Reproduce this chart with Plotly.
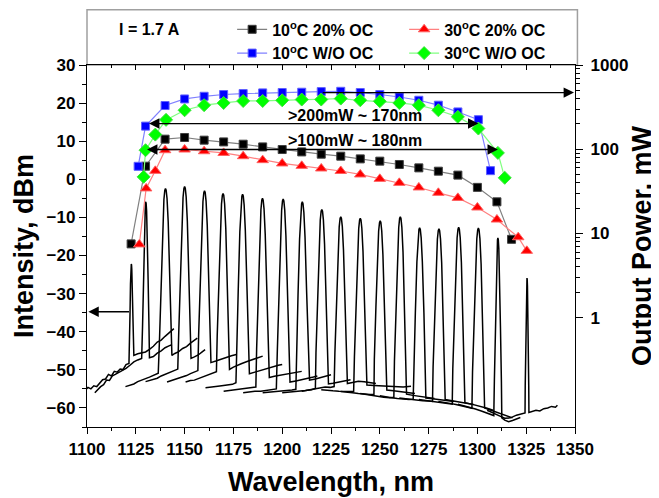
import plotly.graph_objects as go

# ---------------- Output power (mW) vs wavelength (nm), right log axis ----------------
WL_10C_OC = [1122.6, 1130, 1140, 1150, 1160, 1170, 1180, 1190, 1200, 1210, 1220, 1230,
             1240, 1250, 1260, 1270, 1280, 1290, 1300, 1310, 1317.5]
P_10C_OC = [7.5, 62.8, 131.5, 137.7, 128, 122, 114.6, 106.4, 99.1, 92.8, 87.2, 82.6,
            76.7, 72.1, 65.8, 60, 54.8, 49.2, 35.2, 23.7, 8.5]

WL_30C_OC = [1126.8, 1130.3, 1135, 1140, 1150, 1160, 1170, 1180, 1190, 1200, 1210, 1220,
             1230, 1240, 1250, 1260, 1270, 1280, 1290, 1300, 1310, 1320.9, 1325.3]
P_30C_OC = [7.4, 34.2, 55.3, 97.3, 99.1, 94.6, 90.3, 82.6, 74.1, 67.7, 63.4, 59,
            55.1, 50.1, 44.4, 39.8, 35.1, 30.3, 26.4, 20.3, 14.6, 9.0, 6.2]

WL_10C_WO = [1126.2, 1130, 1140, 1150, 1160, 1170, 1180, 1190, 1200, 1210, 1220, 1230,
             1240, 1250, 1260, 1270, 1280, 1290, 1300.5, 1306.7]
P_10C_WO = [62.6, 188, 330, 395, 425, 446, 458, 466, 471, 475, 483, 487,
            471, 446, 417, 381, 333, 277, 224, 55.6]

WL_30C_WO = [1129, 1130, 1135, 1140.5, 1150, 1160, 1170, 1180, 1190, 1200, 1210, 1220,
             1230, 1240, 1250, 1260, 1270, 1280, 1290, 1300.5, 1310.5, 1314]
P_30C_WO = [46.9, 97.3, 149, 223, 290, 333, 354, 374, 374, 381, 389, 389,
            399, 381, 371, 354, 333, 290, 242, 176, 90.4, 45.7]

SERIES_NAMES = ["10<sup>o</sup>C 20% OC", "30<sup>o</sup>C 20% OC",
                "10<sup>o</sup>C W/O OC", "30<sup>o</sup>C W/O OC"]

# ---------------- Lasing spectra (dBm), left axis ----------------
PEAK_NM = [1122.7, 1130.1, 1140.2, 1150.0, 1160.2, 1169.7, 1179.7, 1189.9, 1200.5, 1210.3,
           1220.3, 1230.0, 1240.0, 1250.2, 1260.5, 1270.4, 1280.3, 1290.4, 1300.5, 1310.5, 1325.4]
PEAK_DBM = [-22.2, -5.9, -2.4, -1.9, -3.0, -3.7, -3.9, -5.0, -5.2, -5.9,
            -7.9, -9.8, -10.2, -10.9, -9.8, -12.7, -13.0, -12.6, -12.8, -15.4, -25.9]
PEAK_WIDTH = [0.3, 0.55, 1, 1, 1, 1, 1, 1, 1, 1,
              1, 1, 1, 1, 1, 1, 1, 1, 1, 0.6, 0.3]

# line shape of one lasing line: offset from centre (nm) and fraction of height above floor
PROFILE_OFFSET = [-3.0, -2.2, -1.4, -0.8, -0.35, 0, 0.35, 0.8, 1.4, 2.2, 3.0]
PROFILE_FRAC = [0.2, 0.5, 0.8, 0.94, 0.99, 1, 0.99, 0.94, 0.8, 0.5, 0.2]

# noise floor of each spectrum on the short- and long-wavelength side of its line
BASE_LEFT = [
    [[1099, -55.4], [1100.5, -54.6], [1102, -55.0], [1103.5, -54.2], [1105, -54.4], [1106.5, -53.4],
     [1108, -52.6], [1109.5, -52.4], [1111, -51.2], [1112.5, -51.6], [1114, -50.4], [1115.5, -50.6],
     [1117, -49.8], [1118.5, -49.9], [1120, -48.6], [1121.5, -48.3]],
    [[1104, -56.0], [1105.5, -55.2], [1107, -54.4], [1108.5, -53.9], [1110, -52.7], [1111.5, -52.8],
     [1113, -51.6], [1114.5, -51.2], [1116, -50.8], [1118, -50.1], [1120, -49.6], [1122, -48.8],
     [1124, -47.9], [1126, -47.4], [1128, -47.0]],
    [[1119.7, -54.4], [1122, -54.0], [1124, -53.7], [1126, -53.1], [1128, -52.8], [1130, -52.3],
     [1132, -51.9], [1134, -51.4], [1136.5, -50.9]],
    [[1130, -53.1], [1132, -52.8], [1134, -52.5], [1136, -52.2], [1138, -51.6], [1140, -51.2],
     [1142, -50.6], [1144, -50.3], [1146.5, -49.8]],
    [[1141, -53.2], [1143, -52.9], [1145, -52.6], [1147, -52.3], [1149, -51.9], [1151, -51.5],
     [1153, -51.0], [1155, -50.6], [1156.8, -50.2]],
    [[1150.5, -53.2], [1153, -52.8], [1155, -52.7], [1157, -52.3], [1159, -51.9], [1161, -51.6],
     [1163, -51.1], [1166.3, -50.5]],
    [[1160.7, -54.7], [1163, -54.5], [1166, -54.4], [1169, -54.2], [1172, -54.0], [1174.5, -53.8],
     [1176.3, -53.4]],
    [[1170, -55.6], [1173, -55.4], [1176, -55.3], [1179, -55.1], [1182, -54.9], [1185, -54.7],
     [1186.5, -54.5]],
    [[1180, -56.0], [1183, -55.8], [1186, -55.6], [1189, -55.6], [1192, -55.4], [1195, -55.2],
     [1197, -55.0]],
    [[1190, -56.0], [1193, -55.9], [1196, -55.8], [1199, -55.7], [1202, -55.5], [1205, -55.3],
     [1207, -55.1]],
    [[1200, -56.0], [1203, -55.9], [1206, -55.8], [1209, -55.6], [1212, -55.4], [1215, -55.2],
     [1217, -54.9]],
    [[1210, -55.6], [1213, -55.3], [1216, -54.9], [1219, -54.6], [1222, -54.5], [1224.5, -54.6],
     [1226.6, -54.4]],
    [[1220, -55.2], [1223, -55.4], [1226, -55.5], [1229, -55.6], [1232, -55.7], [1234.5, -55.8],
     [1236.6, -55.7]],
    [[1230, -55.7], [1233, -55.8], [1236, -56.0], [1239, -56.2], [1242, -56.4], [1245, -56.5],
     [1247, -56.4]],
    [[1240, -56.2], [1243, -56.5], [1246, -56.7], [1249, -57.0], [1252, -57.2], [1255, -57.3],
     [1257.2, -57.2]],
    [[1250, -56.8], [1253, -57.1], [1256, -57.3], [1259, -57.5], [1262, -57.7], [1265, -57.8],
     [1267.1, -57.7]],
    [[1260, -57.4], [1263, -57.6], [1266, -57.8], [1269, -58.0], [1272, -58.1], [1275, -58.2],
     [1277.0, -58.3]],
    [[1270, -57.8], [1273, -58.0], [1276, -58.2], [1279, -58.4], [1282, -58.7], [1285, -58.9],
     [1287.1, -59.0]],
    [[1280, -58.3], [1283, -58.5], [1286, -58.8], [1289, -59.1], [1292, -59.4], [1295, -59.8],
     [1297.2, -60.1]],
    [[1290, -59.0], [1293, -59.4], [1296, -59.8], [1299, -60.3], [1302, -60.8], [1305, -61.3],
     [1308.4, -62.0]],
    [[1305, -60.6], [1308, -61.2], [1311, -62.0], [1314, -62.7], [1317, -62.6], [1320, -61.9],
     [1323, -61.5], [1324.4, -61.3]],
]
BASE_RIGHT = [
    [[1124, -46.2], [1126, -45.8], [1128, -45.6], [1130, -45.3], [1132, -44.6], [1134, -43.8],
     [1136, -42.7], [1138, -42.2], [1140, -41.2], [1142, -40.3], [1144.5, -39.2]],
    [[1132, -46.8], [1134, -46.5], [1136, -45.6], [1138, -45.0], [1140, -44.2], [1142, -43.7],
     [1143.5, -43.4]],
    [[1143.5, -46.2], [1145, -45.7], [1147, -45.2], [1149, -44.4], [1151, -43.9], [1153, -43.0],
     [1155, -42.3], [1156.5, -41.7]],
    [[1153.3, -47.0], [1155, -46.6], [1157, -46.1], [1159, -45.3], [1160.5, -44.7]],
    [[1163.5, -48.1], [1166, -47.7], [1168, -47.3], [1170, -47.0], [1172, -46.6], [1174, -46.3],
     [1176.5, -46.0]],
    [[1173, -49.9], [1175, -49.3], [1177, -48.8], [1179, -48.4], [1182, -47.8], [1185, -47.2],
     [1188, -46.8], [1190, -46.4]],
    [[1183.2, -51.0], [1186, -50.6], [1189, -50.1], [1192, -49.6], [1195, -49.2], [1198, -48.8],
     [1200, -48.6]],
    [[1193.4, -52.0], [1196, -51.7], [1199, -51.4], [1202, -51.1], [1205, -50.8], [1208, -50.6],
     [1210, -50.4]],
    [[1204, -53.2], [1207, -52.9], [1210, -52.6], [1213, -52.2], [1216, -51.9], [1218, -51.6]],
    [[1214, -52.7], [1217, -52.4], [1220, -52.0], [1223, -51.6], [1225, -51.3]],
    [[1223.7, -53.7], [1226, -53.5], [1229, -53.2], [1232, -52.9], [1235, -52.6]],
    [[1233.4, -53.6], [1236, -53.3], [1239, -53.0], [1242, -53.1], [1245, -53.4], [1248, -53.6]],
    [[1243.4, -54.0], [1247, -54.1], [1251, -54.2], [1255, -54.3], [1259, -54.4], [1262, -54.5],
     [1266, -54.3]],
    [[1253.6, -55.3], [1257, -55.5], [1261, -55.8], [1265, -56.0], [1268, -56.2]],
    [[1263.7, -56.4], [1267, -56.7], [1271, -57.0], [1275, -57.3], [1278, -57.5]],
    [[1273.6, -57.4], [1277, -57.6], [1281, -57.8], [1285, -58.1], [1288, -58.3]],
    [[1283.5, -57.8], [1287, -58.1], [1291, -58.5], [1295, -58.8], [1298, -59.1]],
    [[1293.6, -58.6], [1297, -59.0], [1301, -59.5], [1305, -60.1], [1308, -60.6]],
    [[1303.7, -60.0], [1307, -60.6], [1310, -61.2], [1313, -61.8], [1316, -62.4], [1318, -62.6]],
    [[1312.5, -62.6], [1314, -63.2], [1316, -63.6], [1318, -63.3], [1320, -62.8], [1322, -62.5]],
    [[1326.4, -61.2], [1328, -61.0], [1330, -60.6], [1332, -60.8], [1334, -60.2], [1336, -60.0],
     [1338, -59.6], [1340, -59.8], [1341, -59.3]],
]

FONT = "Liberation Sans, Arial, sans-serif"

fig = go.Figure()

# spectra
for k in range(len(PEAK_NM)):
    p, top, w = PEAK_NM[k], PEAK_DBM[k], PEAK_WIDTH[k]
    left, right = BASE_LEFT[k], BASE_RIGHT[k]
    lb, rb = left[-1][1], right[0][1]
    xs = [pt[0] for pt in left]
    ys = [pt[1] for pt in left]
    for off, fr in zip(PROFILE_OFFSET, PROFILE_FRAC):
        base = lb if off < 0 else rb
        xs.append(p + off * w)
        ys.append(base + fr * (top - base))
    xs += [pt[0] for pt in right]
    ys += [pt[1] for pt in right]
    fig.add_trace(go.Scatter(x=xs, y=ys, mode="lines", line=dict(color="black", width=1.5),
                             showlegend=False, hoverinfo="skip", xaxis="x", yaxis="y"))

# dummy trace to realise the inner-tick top axis
fig.add_trace(go.Scatter(x=[None], y=[None], xaxis="x3", yaxis="y", showlegend=False,
                         hoverinfo="skip"))

# output power series
series = [
    (WL_10C_OC, P_10C_OC, SERIES_NAMES[0], "#808080", dict(symbol="square", size=8, color="black",
                                                            line=dict(color="#404040", width=1))),
    (WL_30C_OC, P_30C_OC, SERIES_NAMES[1], "#ff8080", dict(symbol="triangle-up", size=10, color="red",
                                                            line=dict(color="#ff6060", width=1))),
    (WL_10C_WO, P_10C_WO, SERIES_NAMES[2], "#8080ff", dict(symbol="square", size=8, color="#0000ff",
                                                            line=dict(color="#6060ff", width=1))),
    (WL_30C_WO, P_30C_WO, SERIES_NAMES[3], "#80ff80", dict(symbol="diamond", size=10, color="#00ff00",
                                                            line=dict(color="#40e040", width=1))),
]
for xs, ys, name, lc, mk in series:
    fig.add_trace(go.Scatter(x=xs, y=ys, name=name, mode="lines+markers",
                             line=dict(color=lc, width=1.2), marker=mk,
                             xaxis="x", yaxis="y2"))

tickfont = dict(family=FONT, size=17, color="black", weight="bold")
titlefont = dict(family=FONT, size=27, color="black", weight="bold")

ann = []
def arrow(x, y, ax, ay, both=False):
    d = dict(x=x, y=y, ax=ax, ay=ay, xref="x", yref="y", axref="x", ayref="y", text="",
             showarrow=True, arrowhead=2, arrowsize=1.6, arrowwidth=1.3, arrowcolor="black")
    if both:
        d.update(arrowside="end+start", startarrowhead=2, startarrowsize=1.6)
    ann.append(d)

arrow(1349.5, 22.76, 1220, 22.76)
arrow(1300.5, 14.64, 1131, 14.64, both=True)
arrow(1310.5, 7.82, 1130, 7.82, both=True)
arrow(1100.7, -34.76, 1122.3, -34.76)
ann.append(dict(x=1237.4, y=16.7, xref="x", yref="y", text=">200mW ~ 170nm", showarrow=False,
                font=dict(family=FONT, size=16, color="black", weight="bold")))
ann.append(dict(x=1237.4, y=10.1, xref="x", yref="y", text=">100mW ~ 180nm", showarrow=False,
                font=dict(family=FONT, size=16, color="black", weight="bold")))
ann.append(dict(x=0.129, y=1.098, xref="paper", yref="paper", xanchor="center", yanchor="middle",
                text="I = 1.7 A", showarrow=False,
                font=dict(family=FONT, size=16, color="black", weight="bold")))

# the page body adds an 8 px offset, so the figure is sized to fill the rest of the window
fig.update_layout(
    width=651, height=490,
    margin=dict(l=79, r=84, t=57, b=71, autoexpand=False),
    plot_bgcolor="white", paper_bgcolor="white",
    font=dict(family=FONT, color="black"),
    xaxis=dict(range=[1100, 1350], tick0=1100, dtick=25, ticks="outside", ticklen=6, tickwidth=1.3,
               tickcolor="black", showline=True, linecolor="black", linewidth=1.3, showgrid=False,
               zeroline=False, tickfont=tickfont,
               minor=dict(ticks="outside", ticklen=3, tickwidth=1.3, tickcolor="black",
                          tick0=1100, dtick=12.5, showgrid=False),
               title=dict(text="Wavelength, nm", font=titlefont, standoff=14)),
    xaxis3=dict(overlaying="x", side="top", anchor="y", range=[1100, 1350], tick0=1100, dtick=25,
                ticks="inside", ticklen=5, tickwidth=1.3, tickcolor="black", showline=True,
                linecolor="black", linewidth=1.3, showgrid=False, zeroline=False,
                showticklabels=False,
                minor=dict(ticks="inside", ticklen=3, tickwidth=1.3, tickcolor="black",
                           tick0=1100, dtick=12.5, showgrid=False)),
    yaxis=dict(range=[-65, 30], tick0=0, dtick=10, ticks="outside", ticklen=7, tickwidth=1.3,
               tickcolor="black", showline=True, linecolor="black", linewidth=1.3, showgrid=False,
               zeroline=False, tickfont=tickfont,
               minor=dict(ticks="outside", ticklen=4, tickwidth=1.3, tickcolor="black",
                          tick0=0, dtick=5, showgrid=False),
               title=dict(text="Intensity, dBm", font=titlefont, standoff=5)),
    yaxis2=dict(overlaying="y", side="right", type="log", range=[-1.3, 3],
                tickvals=[1, 10, 100, 1000], ticktext=["1", "10", "100", "1000"],
                ticks="outside", ticklen=7, tickwidth=1.3, tickcolor="black", showline=True,
                linecolor="black", linewidth=1.3, showgrid=False, zeroline=False, tickfont=tickfont,
                ticklabelstandoff=4,
                minor=dict(ticks="outside", ticklen=4, tickwidth=1.3, tickcolor="black",
                           tickvals=[2, 3, 4, 5, 6, 7, 8, 9, 20, 30, 40, 50, 60, 70, 80, 90,
                                     200, 300, 400, 500, 600, 700, 800, 900], showgrid=False),
                title=dict(text="Output Power, mW", font=titlefont, standoff=4)),
    legend=dict(orientation="h", x=0.2974, xanchor="left", y=1.1453, yanchor="top",
                entrywidth=127, entrywidthmode="pixels", itemwidth=30,
                font=dict(family=FONT, size=16, color="black", weight="bold"),
                bgcolor="rgba(0,0,0,0)", borderwidth=0, traceorder="normal"),
    shapes=[dict(type="rect", xref="paper", yref="paper", x0=0, x1=1.005, y0=1.0, y1=1.1526,
                 line=dict(color="#a0a0a0", width=1.5), fillcolor="rgba(0,0,0,0)", layer="below")],
    annotations=ann,
)

fig.write_html("out.html")
